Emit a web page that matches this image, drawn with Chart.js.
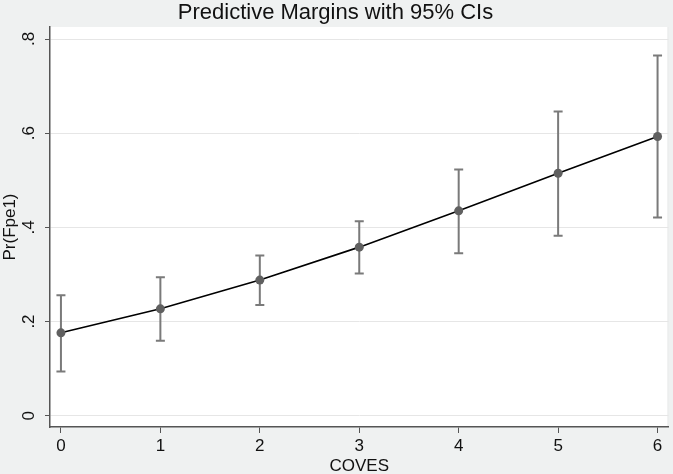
<!DOCTYPE html>
<html>
<head>
<meta charset="utf-8">
<script src="https://cdn.jsdelivr.net/npm/chart.js@4"></script>
<style>
  html, body { margin: 0; padding: 0; background: #eff1f1; }
  #wrap { width: 673px; height: 474px; }
</style>
</head>
<body>
<div id="wrap"><canvas id="c" width="673" height="474"></canvas></div>
<script>
const categories = [0, 1, 2, 3, 4, 5, 6];
const margins = [0.176, 0.227, 0.288, 0.358, 0.435, 0.515, 0.593];
const ciLower = [0.094, 0.159, 0.235, 0.302, 0.345, 0.382, 0.421];
const ciUpper = [0.256, 0.294, 0.340, 0.413, 0.523, 0.646, 0.765];
const yTicks = [0, 0.2, 0.4, 0.6, 0.8];
const yTickLabels = ["0", ".2", ".4", ".6", ".8"];
const xTicks = [0, 1, 2, 3, 4, 5, 6];

const FONT = '"Liberation Sans", Arial, Helvetica, sans-serif';

const bgPlugin = {
  id: 'bg',
  beforeDraw(chart) {
    const {ctx, chartArea: a} = chart;
    ctx.save();
    ctx.fillStyle = '#eff1f1';
    ctx.fillRect(0, 0, chart.width, chart.height);
    ctx.fillStyle = '#ffffff';
    ctx.fillRect(a.left, a.top, a.right - a.left, a.bottom - a.top);
    ctx.strokeStyle = '#e2e4e4';
    ctx.lineWidth = 1;
    ctx.beginPath();
    ctx.moveTo(a.right - 0.5, a.top);
    ctx.lineTo(a.right - 0.5, a.bottom);
    ctx.stroke();
    ctx.restore();
  }
};

const errPlugin = {
  id: 'err',
  beforeDatasetsDraw(chart) {
    const {ctx, scales: {x, y}} = chart;
    ctx.save();
    ctx.strokeStyle = '#7a7a7a';
    ctx.lineWidth = 2;
    const cap = 4.5;
    categories.forEach((c, i) => {
      const px = x.getPixelForValue(c);
      const lo = y.getPixelForValue(ciLower[i]);
      const hi = y.getPixelForValue(ciUpper[i]);
      ctx.beginPath();
      ctx.moveTo(px, lo); ctx.lineTo(px, hi);
      ctx.moveTo(px - cap, lo); ctx.lineTo(px + cap, lo);
      ctx.moveTo(px - cap, hi); ctx.lineTo(px + cap, hi);
      ctx.stroke();
    });
    ctx.restore();
  }
};

const yLabelPlugin = {
  id: 'ylabels',
  afterDraw(chart) {
    const {ctx, scales: {y}} = chart;
    ctx.save();
    ctx.fillStyle = '#111111';
    ctx.font = '17px ' + FONT;
    ctx.textAlign = 'center';
    ctx.textBaseline = 'alphabetic';
    yTicks.forEach((v, i) => {
      const py = y.getPixelForValue(v);
      ctx.save();
      ctx.translate(34, py);
      ctx.rotate(-Math.PI / 2);
      ctx.fillText(yTickLabels[i], 0, 0);
      ctx.restore();
    });
    ctx.restore();
  }
};

new Chart(document.getElementById('c'), {
  type: 'line',
  data: {
    datasets: [{
      data: categories.map((c, i) => ({x: c, y: margins[i]})),
      borderColor: '#000000',
      borderWidth: 1.6,
      pointRadius: 4.5,
      pointBackgroundColor: '#606060',
      pointBorderWidth: 0,
      tension: 0,
      fill: false
    }]
  },
  options: {
    responsive: false,
    animation: false,
    devicePixelRatio: 1,
    layout: { padding: { left: 0, right: 2, top: 0, bottom: 0 } },
    plugins: {
      legend: { display: false },
      tooltip: { enabled: false },
      title: {
        display: true,
        text: 'Predictive Margins with 95% CIs',
        color: '#111111',
        font: { family: FONT, size: 22, weight: 'normal', lineHeight: 1.0 },
        padding: { top: 2, bottom: 3 }
      }
    },
    scales: {
      x: {
        type: 'linear',
        min: -0.11,
        max: 6.11,
        afterBuildTicks: s => { s.ticks = xTicks.map(v => ({value: v})); },
        afterFit: s => { s.height = 47; },
        grid: { drawOnChartArea: false, drawTicks: true, tickLength: 6, tickColor: '#555555', tickWidth: 1 },
        border: { color: '#555555', width: 1.5 },
        ticks: { color: '#111111', font: { family: FONT, size: 17 }, padding: 3, maxRotation: 0, callback: v => String(v) },
        title: { display: true, text: 'COVES', color: '#111111', font: { family: FONT, size: 17, lineHeight: 0.95 }, padding: { top: 0, bottom: 0 } }
      },
      y: {
        type: 'linear',
        min: -0.024,
        max: 0.8255,
        afterBuildTicks: s => { s.ticks = yTicks.map(v => ({value: v})); },
        afterFit: s => { s.width = 50; },
        grid: { color: '#e6e6e6', lineWidth: 1, drawTicks: true, tickLength: 5, tickColor: '#555555', tickWidth: 1 },
        border: { color: '#555555', width: 1.5 },
        ticks: { display: false },
        title: { display: true, text: 'Pr(Fpe1)', color: '#111111', font: { family: FONT, size: 17, lineHeight: 1.0 }, padding: { top: 2, bottom: 0 } }
      }
    }
  },
  plugins: [bgPlugin, errPlugin, yLabelPlugin]
});
</script>
</body>
</html>
